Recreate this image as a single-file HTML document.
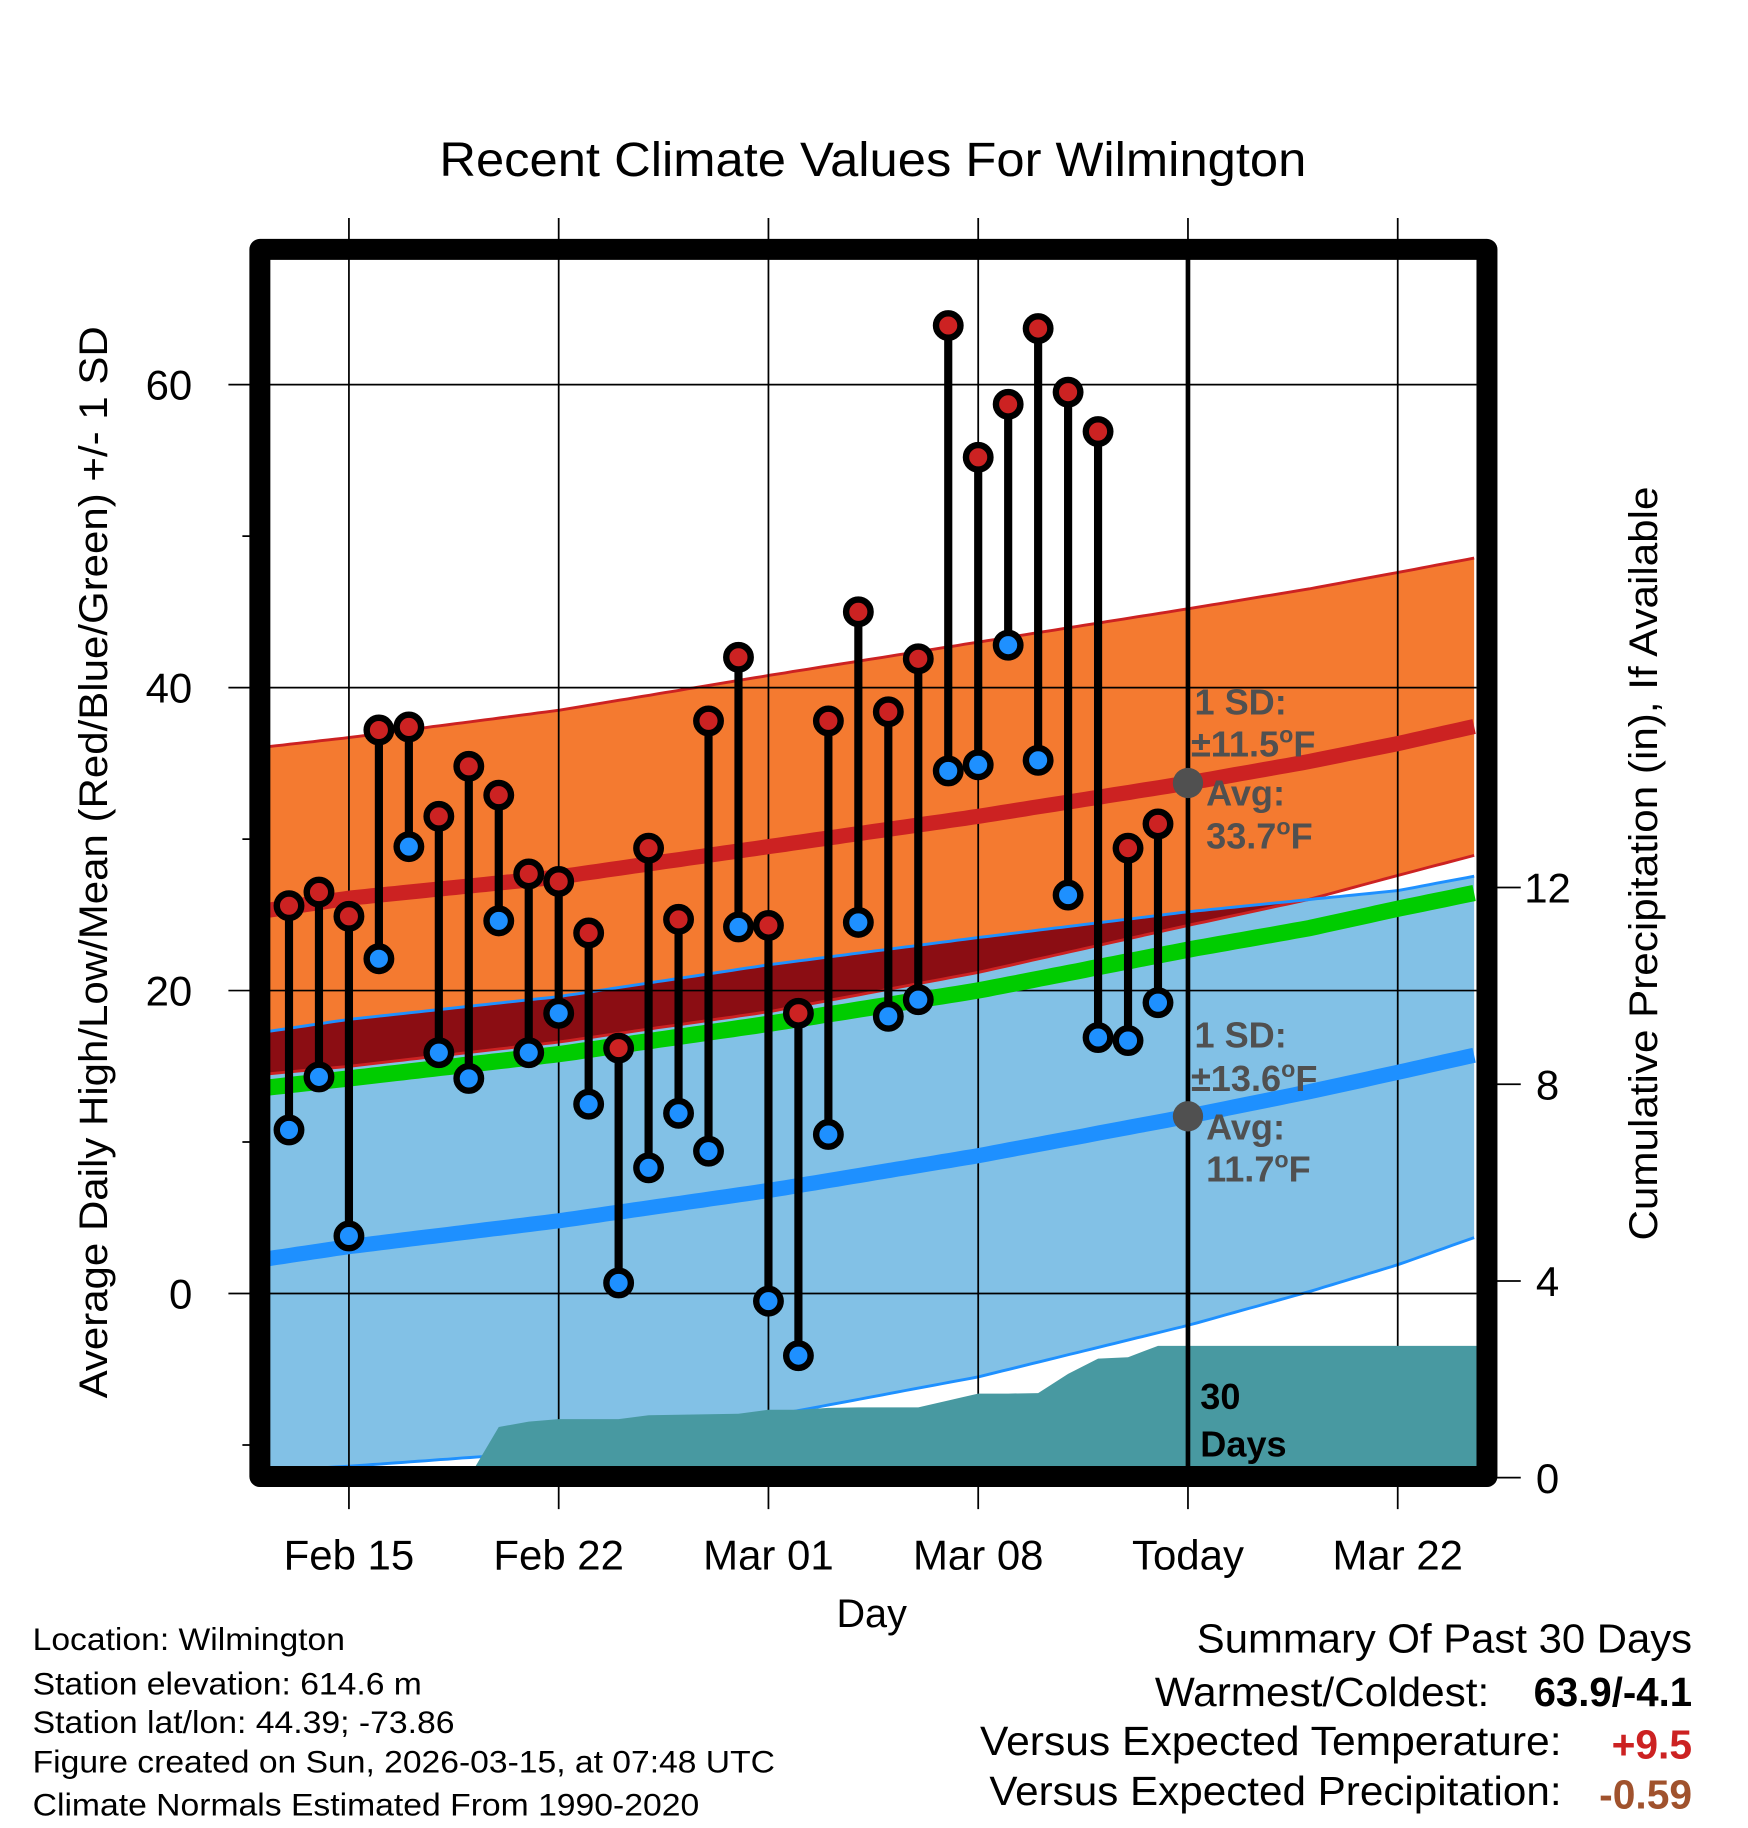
<!DOCTYPE html>
<html><head><meta charset="utf-8"><style>
html,body{margin:0;padding:0;background:#fff;}
svg{display:block;font-family:"Liberation Sans",sans-serif;}
</style></head><body>
<svg id="chart" width="1748" height="1828" viewBox="0 0 1500 1568.6" xmlns="http://www.w3.org/2000/svg">
<defs><clipPath id="plotclip"><rect x="231" y="222" width="1036" height="1037"/></clipPath></defs>
<text x="377" y="151" font-size="41" textLength="744" lengthAdjust="spacingAndGlyphs">Recent Climate Values For Wilmington</text>
<g id="bands" clip-path="url(#plotclip)"></g>
<g id="grid"></g>
<g id="precip" clip-path="url(#plotclip)"></g>
<g id="lines" clip-path="url(#plotclip)"></g>
<g id="marks"></g>
<g id="annot" font-weight="bold" fill="#505050" font-size="31">
<text x="1025" y="613">1 SD:</text>
<text x="1022" y="649">±11.5<tspan dy="-12" font-size="20">o</tspan><tspan dy="12">F</tspan></text>
<text x="1035" y="691">Avg:</text>
<text x="1035" y="728">33.7<tspan dy="-12" font-size="20">o</tspan><tspan dy="12">F</tspan></text>
<text x="1025" y="899">1 SD:</text>
<text x="1022" y="936">±13.6<tspan dy="-12" font-size="20">o</tspan><tspan dy="12">F</tspan></text>
<text x="1035" y="978">Avg:</text>
<text x="1035" y="1014">11.7<tspan dy="-12" font-size="20">o</tspan><tspan dy="12">F</tspan></text>
<text x="1030" y="1209" fill="#000">30</text>
<text x="1030" y="1250" fill="#000">Days</text>
</g>
<rect x="223" y="214" width="1053" height="1053" fill="none" stroke="#000" stroke-width="18" stroke-linejoin="round"/>
<g id="axes" font-size="36"></g>
<text transform="translate(92,740) rotate(-90)" font-size="34" text-anchor="middle" textLength="920" lengthAdjust="spacingAndGlyphs">Average Daily High/Low/Mean (Red/Blue/Green) +/- 1 SD</text>
<text transform="translate(1422,741) rotate(-90)" font-size="34" text-anchor="middle" textLength="647" lengthAdjust="spacingAndGlyphs">Cumulative Precipitation (in), If Available</text>
<text x="748" y="1396" font-size="34" text-anchor="middle">Day</text>
<g font-size="27">
<text x="28" y="1416" textLength="268" lengthAdjust="spacingAndGlyphs">Location: Wilmington</text>
<text x="28" y="1454" textLength="334" lengthAdjust="spacingAndGlyphs">Station elevation: 614.6 m</text>
<text x="28" y="1487" textLength="362" lengthAdjust="spacingAndGlyphs">Station lat/lon: 44.39; -73.86</text>
<text x="28" y="1521" textLength="637" lengthAdjust="spacingAndGlyphs">Figure created on Sun, 2026-03-15, at 07:48 UTC</text>
<text x="28" y="1558" textLength="572" lengthAdjust="spacingAndGlyphs">Climate Normals Estimated From 1990-2020</text>
</g>
<g font-size="35">
<text x="1027" y="1418" textLength="425" lengthAdjust="spacingAndGlyphs">Summary Of Past 30 Days</text>
<text x="991" y="1464" textLength="287" lengthAdjust="spacingAndGlyphs">Warmest/Coldest:</text>
<text x="1316" y="1464" font-weight="bold" textLength="136" lengthAdjust="spacingAndGlyphs">63.9/-4.1</text>
<text x="841" y="1506" textLength="499" lengthAdjust="spacingAndGlyphs">Versus Expected Temperature:</text>
<text x="1452" y="1509" text-anchor="end" font-weight="bold" fill="#cc2222">+9.5</text>
<text x="849" y="1549" textLength="491" lengthAdjust="spacingAndGlyphs">Versus Expected Precipitation:</text>
<text x="1452" y="1552" text-anchor="end" font-weight="bold" fill="#a0522d">-0.59</text>
</g>
</svg>
<script>
// day index 0 = Feb 13
const highs=[25.6,26.5,24.9,37.2,37.4,31.5,34.8,32.9,27.7,27.2,23.8,16.2,29.4,24.7,37.8,42.0,24.3,18.5,37.8,45.0,38.4,41.9,63.9,55.2,58.7,63.7,59.5,56.9,29.4,31.0];
const lows=[10.8,14.3,3.8,22.1,29.5,15.9,14.2,24.6,15.9,18.5,12.5,0.7,8.3,11.9,9.4,24.2,-0.5,-4.1,10.5,24.5,18.3,19.4,34.5,34.9,42.8,35.2,26.3,16.9,16.7,19.2];
const precip=[0,0,0,0,0,0,0,1.03,1.14,1.19,1.19,1.19,1.27,1.28,1.29,1.30,1.38,1.38,1.42,1.43,1.43,1.43,1.57,1.71,1.71,1.72,2.11,2.42,2.45,2.68];
const normDays=[-0.7,2,9,16,23,30,34,37,39.7];
const normHigh=[25.3,26.1,27.5,29.5,31.5,33.7,35.1,36.3,37.5];
const highUpper=[36.1,36.7,38.5,40.8,43.0,45.2,46.5,47.6,48.6];
const highLower=[14.5,15.0,16.6,18.6,21.2,24.3,26.0,27.6,29.0];
const normMean=[13.6,14.2,15.8,17.8,20.0,22.7,24.1,25.4,26.5];
const normLow=[2.3,3.1,4.8,6.8,9.1,11.7,13.3,14.6,15.8];
const lowUpper=[17.3,18.1,19.6,21.7,23.5,25.2,26.0,26.6,27.6];
const lowLower=[-11.7,-11.4,-10.4,-8.1,-5.5,-2.1,0.1,1.9,3.8];
const tempTicks=[60,40,20,0];
const tempMinor=[50,30,10,-10];
const precipTicks=[12,8,4,0];
const xTickDays=[2,9,16,23,30,37];
const xTickLabels=["Feb 15","Feb 22","Mar 01","Mar 08","Today","Mar 22"];
const todayDay=30;

const NS="http://www.w3.org/2000/svg";
const X=d=>248+d*25.714;
const YT=v=>1110-13*v;
const YP=p=>1268-42.2*p;
function mk(parent,tag,attrs){const e=document.createElementNS(NS,tag);for(const k in attrs)e.setAttribute(k,attrs[k]);document.getElementById(parent).appendChild(e);return e;}
function interp(arr,d){for(let i=0;i<normDays.length-1;i++){if(d<=normDays[i+1]||i==normDays.length-2){const t=(d-normDays[i])/(normDays[i+1]-normDays[i]);return arr[i]+t*(arr[i+1]-arr[i]);}}}
const samples=[];for(let d=normDays[0];d<=normDays[normDays.length-1]+0.001;d+=0.25)samples.push(d);
function linePts(arr){return samples.map(d=>X(d).toFixed(1)+","+YT(interp(arr,d)).toFixed(1));}
function bandPts(top,bot){return linePts(top).concat(linePts(bot).reverse()).join(" ");}

let e;
e=mk('bands','polygon',{points:bandPts(highUpper,highLower),fill:'#f47a30'});


e=mk('bands','polygon',{points:bandPts(lowUpper,lowLower),fill:'#82c1e6'});


const ovTop=samples.map(d=>X(d).toFixed(1)+","+YT(Math.max(interp(lowUpper,d),interp(highLower,d))).toFixed(1));
const ovBot=samples.map(d=>X(d).toFixed(1)+","+YT(interp(highLower,d)).toFixed(1));
e=mk('bands','polygon',{points:ovTop.concat(ovBot.reverse()).join(" "),fill:'#8b0d13'});


[[highUpper,'#cc2222','high-upper-edge'],[highLower,'#cc2222','high-lower-edge'],[lowUpper,'#1e90ff','low-upper-edge'],[lowLower,'#1e90ff','low-lower-edge']].forEach(a=>{
 e=mk('bands','polyline',{points:linePts(a[0]).join(" "),fill:'none',stroke:a[1],'stroke-width':2.5});
 
 
});

tempTicks.forEach(v=>{
 e=mk('grid','line',{x1:196,x2:1267,y1:YT(v),y2:YT(v),stroke:'#000','stroke-width':1.5});
 
 
 e=mk('axes','text',{x:165,y:YT(v)+13,'text-anchor':'end'});e.textContent=v;
 
 
});
tempMinor.forEach(v=>{
 e=mk('grid','line',{x1:208,x2:222,y1:YT(v),y2:YT(v),stroke:'#000','stroke-width':1.5});
 
 
});
precipTicks.forEach(p=>{
 e=mk('grid','line',{x1:1276,x2:1305,y1:YP(p),y2:YP(p),stroke:'#000','stroke-width':1.5});
 
 
 e=mk('axes','text',{x:1328,y:YP(p)+13,'text-anchor':'middle'});e.textContent=p;
 
 
});
xTickDays.forEach((d,i)=>{
 e=mk('grid','line',{x1:X(d),x2:X(d),y1:187,y2:1295,stroke:'#000','stroke-width':1.5});
 
 
 e=mk('axes','text',{x:X(d),y:1347,'text-anchor':'middle'});e.textContent=xTickLabels[i];
 
 
});

let pp=[X(6)+","+YP(0)];
precip.forEach((p,i)=>{if(i>=6)pp.push(X(i)+","+YP(p));});
pp.push("1270,"+YP(precip[precip.length-1]));pp.push("1270,1270");pp.push(X(6)+",1270");
e=mk('precip','polygon',{points:pp.join(" "),fill:'#4899a1'});



[[normMean,'#00cc00',14,'normal-mean-line'],[normHigh,'#cc2222',13,'normal-high-line'],[normLow,'#1e90ff',13,'normal-low-line']].forEach(a=>{
 e=mk('lines','polyline',{points:linePts(a[0]).join(" "),fill:'none',stroke:a[1],'stroke-width':a[2]});
 
 
});

e=mk('marks','line',{x1:X(todayDay),x2:X(todayDay),y1:222,y2:1259,stroke:'#000','stroke-width':4});


e=mk('marks','circle',{cx:X(todayDay),cy:YT(interp(normHigh,todayDay)),r:13,fill:'#505050'});


e=mk('marks','circle',{cx:X(todayDay),cy:YT(interp(normLow,todayDay)),r:13,fill:'#505050'});



highs.forEach((h,i)=>{
 e=mk('marks','line',{x1:X(i),x2:X(i),y1:YT(h),y2:YT(lows[i]),stroke:'#000','stroke-width':7});
 
 
});
highs.forEach((h,i)=>{
 e=mk('marks','circle',{cx:X(i),cy:YT(h),r:10.5,fill:'#cc2222',stroke:'#000','stroke-width':5.5});
 
 
 e=mk('marks','circle',{cx:X(i),cy:YT(lows[i]),r:10.5,fill:'#1e90ff',stroke:'#000','stroke-width':5.5});
 
 
});
</script>
</body></html>
